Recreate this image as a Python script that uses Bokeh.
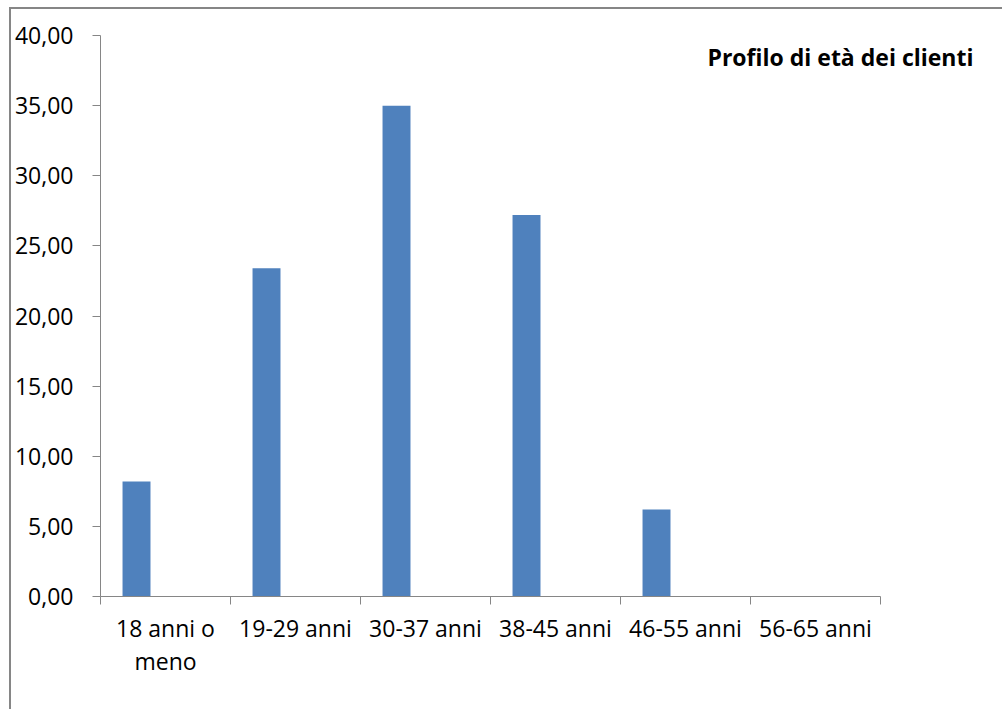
from bokeh.plotting import figure
from bokeh.models import Range1d, FixedTicker, Label, ColumnDataSource
from bokeh.embed import file_html
from bokeh.resources import INLINE

# ---- data ----
categories = ["18 anni o\nmeno", "19-29 anni", "30-37 anni", "38-45 anni", "46-55 anni", "56-65 anni"]
values = [8.2, 23.4, 35.0, 27.2, 6.2, 0.0]
y_ticks = [0, 5, 10, 15, 20, 25, 30, 35, 40]
y_tick_labels = ["0,00", "5,00", "10,00", "15,00", "20,00", "25,00", "30,00", "35,00", "40,00"]
title_text = "Profilo di età dei clienti"

FONT = "Open Sans"
AXIS_COLOR = "#868686"
BAR_COLOR = "#4F81BD"

n = len(categories)
bar_offset = -0.223
bar_width = 0.215
src = ColumnDataSource(dict(
    x=[i + 0.5 + bar_offset for i in range(n)],
    top=values,
))

# frame extends to the right edge so the in-chart title is not clipped;
# axis bounds keep the axis line on the category slots only
x_end = n * 904 / 780

p = figure(width=993, height=702, output_backend="svg", toolbar_location=None,
           x_range=Range1d(0, x_end), y_range=Range1d(0, 40),
           min_border_left=89, min_border_right=0, min_border_top=26, min_border_bottom=115,
           tools="")
p.styles = {"margin-left": "9px", "margin-top": "7px",
            "border-left": "2px solid #868686", "border-top": "2px solid #868686"}
p.outline_line_color = None
p.xgrid.visible = False
p.ygrid.visible = False
p.background_fill_color = "white"
p.border_fill_color = "white"

p.vbar(x="x", top="top", width=bar_width, bottom=0, source=src,
       fill_color=BAR_COLOR, line_color=None)

# x axis
xa = p.xaxis[0]
xa.bounds = (0, n)
xa.ticker = FixedTicker(ticks=[i + 0.5 for i in range(n)], minor_ticks=list(range(n + 1)))
xa.major_label_overrides = {i + 0.5: c for i, c in enumerate(categories)}
xa.major_tick_line_color = None
xa.major_tick_out = 0
xa.major_tick_in = 0
xa.minor_tick_line_color = AXIS_COLOR
xa.minor_tick_out = 8
xa.minor_tick_in = 0
xa.axis_line_color = AXIS_COLOR
xa.major_label_text_font = FONT
xa.major_label_text_font_size = "23px"
xa.major_label_text_color = "black"
xa.major_label_text_line_height = 1.05
xa.major_label_standoff = 7

# y axis
ya = p.yaxis[0]
ya.bounds = (0, 40)
ya.ticker = FixedTicker(ticks=y_ticks, minor_ticks=[])
ya.major_label_overrides = {t: l for t, l in zip(y_ticks, y_tick_labels)}
ya.major_tick_line_color = AXIS_COLOR
ya.major_tick_out = 8
ya.major_tick_in = 0
ya.minor_tick_line_color = None
ya.axis_line_color = AXIS_COLOR
ya.major_label_text_font = FONT
ya.major_label_text_font_size = "23px"
ya.major_label_text_color = "black"
ya.major_label_standoff = 19

# title inside the chart area, right aligned
p.add_layout(Label(x=n + 0.715, y=38.5, text=title_text, text_align="right",
                   text_baseline="alphabetic", text_font=FONT, text_font_size="23px",
                   text_font_style="bold", text_color="black"))

open("out.html", "w").write(file_html(p, INLINE))
